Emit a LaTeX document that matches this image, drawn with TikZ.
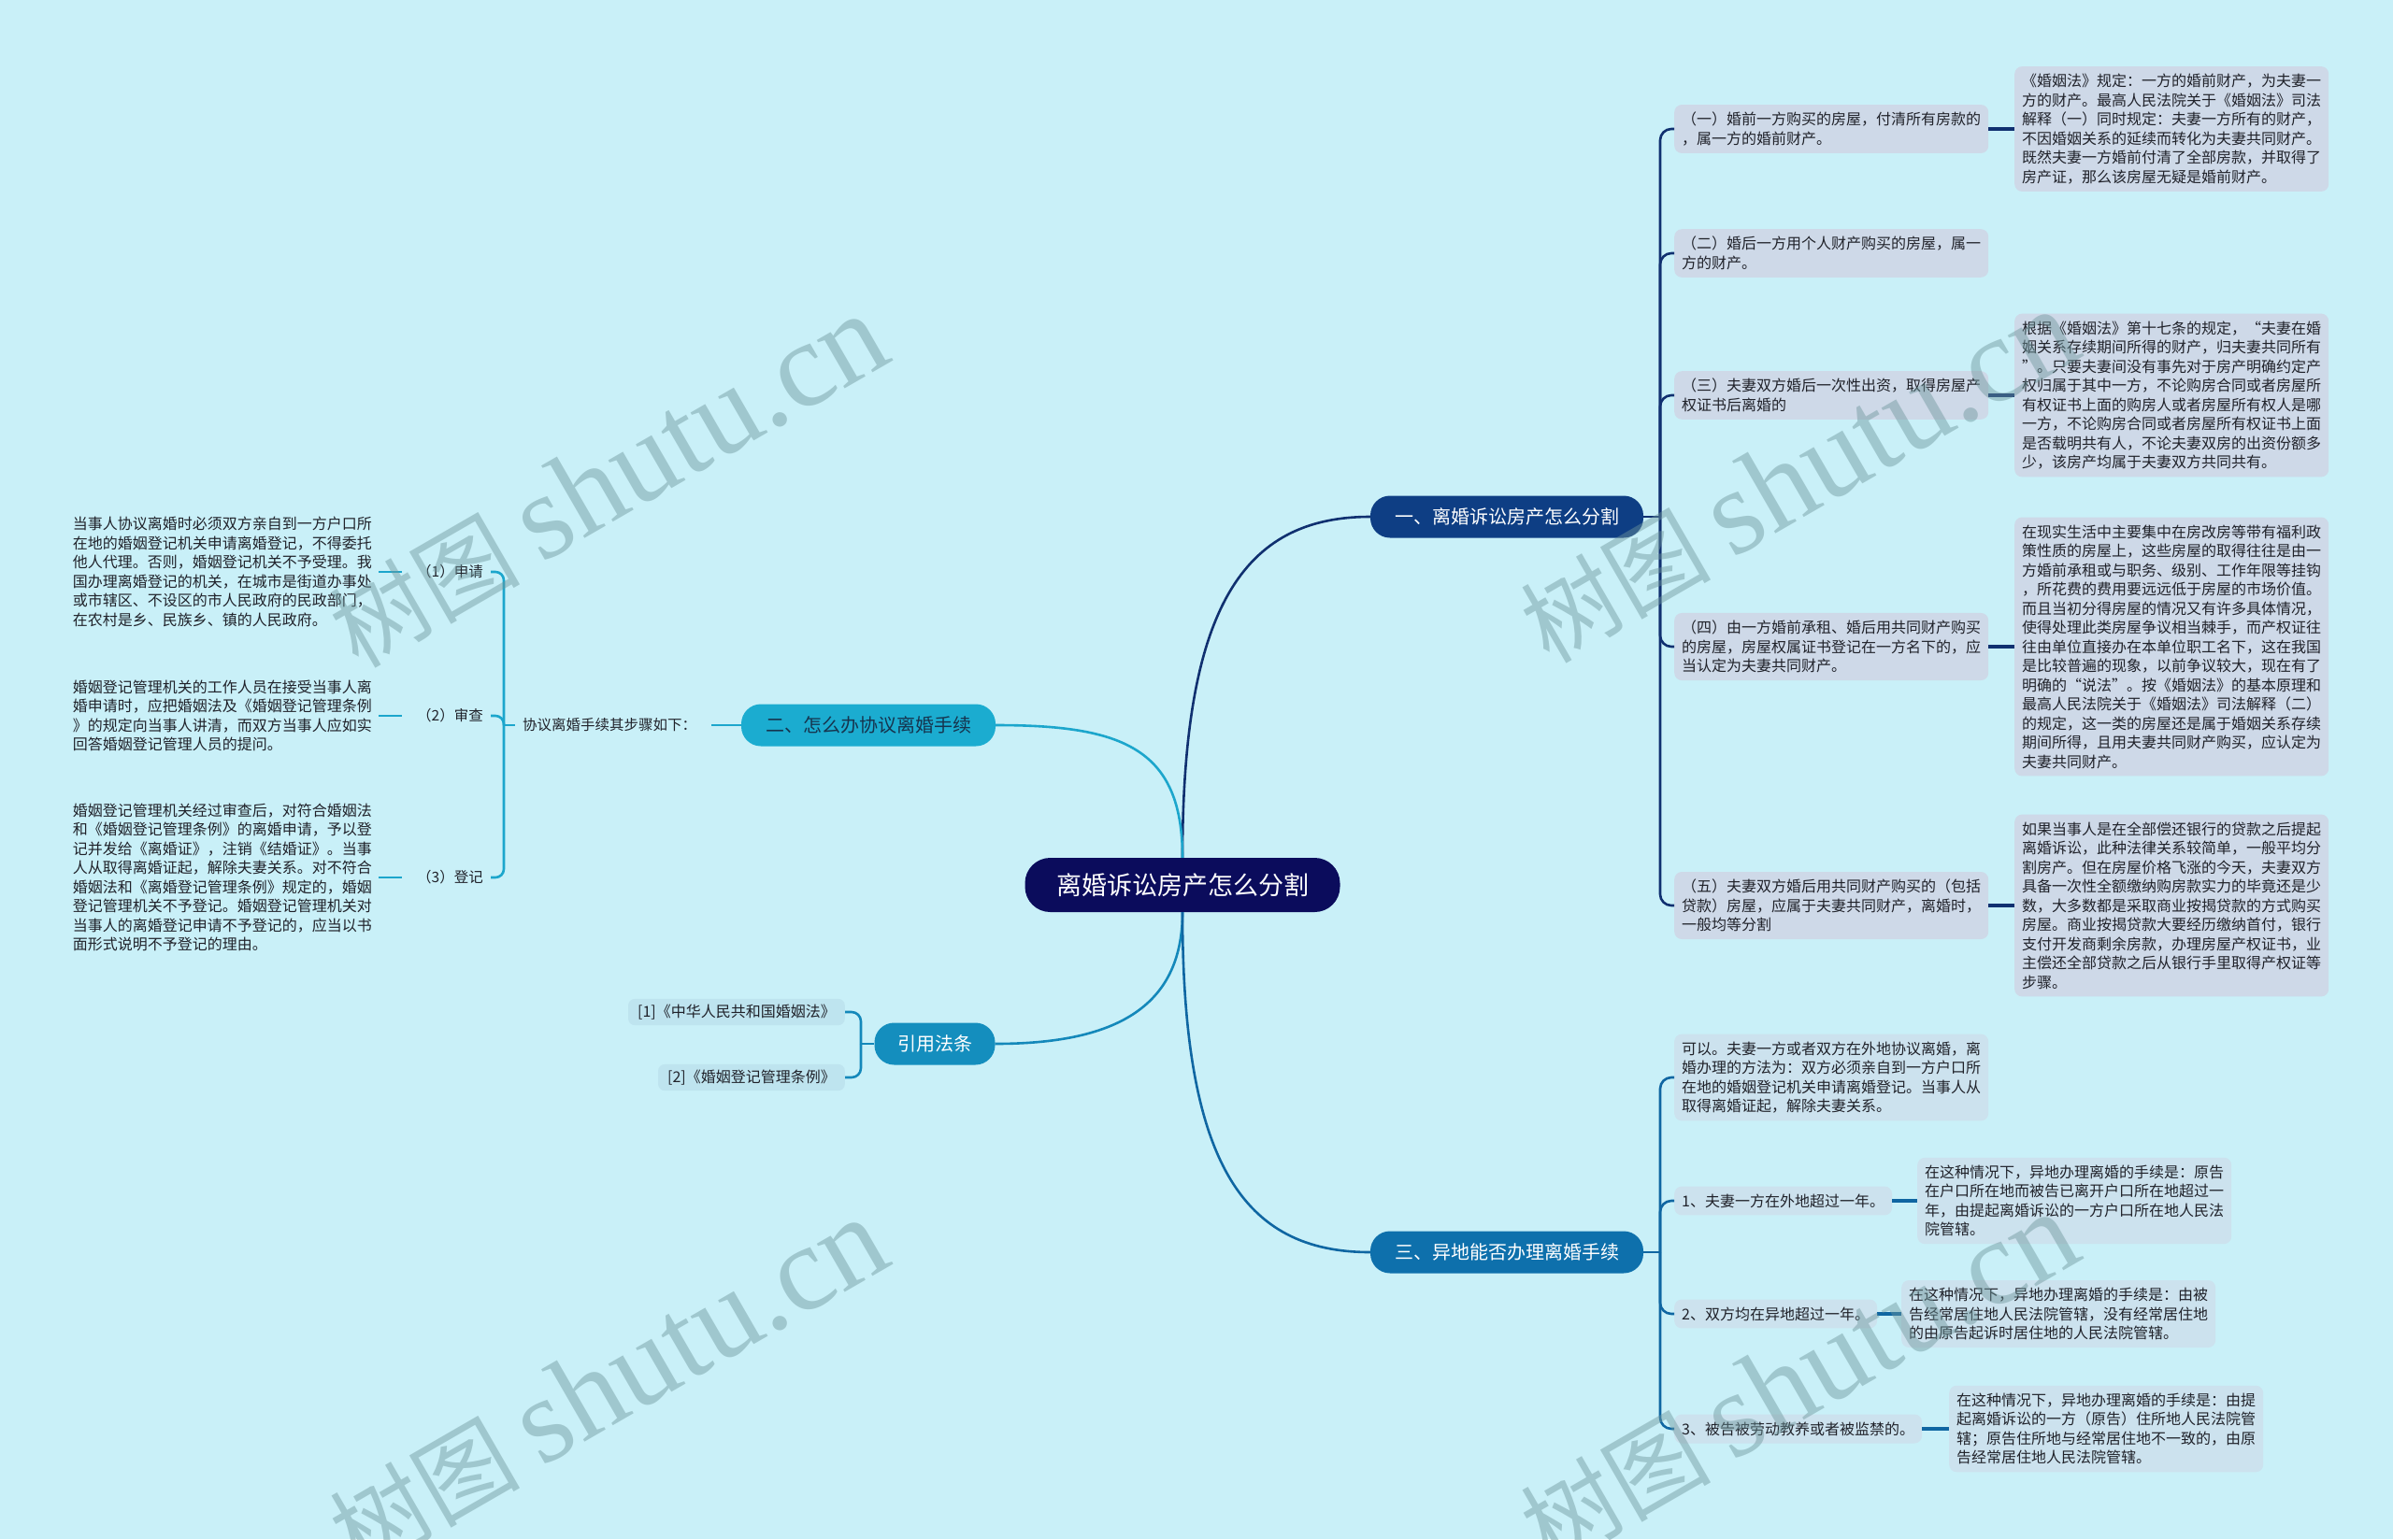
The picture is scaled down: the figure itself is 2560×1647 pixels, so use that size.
\documentclass[tikz,border=0pt]{standalone}
\usepackage{fontspec}
\setmainfont{Noto Sans CJK SC}
\newfontfamily\wmlatin{Liberation Serif}
\definecolor{bg}{RGB}{201,240,248}
\definecolor{rootc}{RGB}{11,12,92}
\definecolor{bAc}{RGB}{14,62,132}
\definecolor{bBc}{RGB}{27,172,208}
\definecolor{bBt}{RGB}{22,52,78}
\definecolor{bCc}{RGB}{20,142,190}
\definecolor{bDc}{RGB}{14,112,172}
\definecolor{boxA}{RGB}{206,217,232}
\definecolor{boxD}{RGB}{204,226,238}
\definecolor{boxC}{RGB}{190,228,239}
\definecolor{txt}{RGB}{32,34,42}
\definecolor{lnAc}{RGB}{16,48,112}
\definecolor{lnBc}{RGB}{28,166,204}
\definecolor{lnCc}{RGB}{20,136,186}
\definecolor{lnDc}{RGB}{15,102,162}
\definecolor{wmc}{RGB}{110,150,155}
\tikzset{
  rootnode/.style={fill=rootc, text=white, rounded corners=27pt, minimum width=337pt, minimum height=58pt, inner sep=0pt, font=\fontsize{27}{30}\selectfont},
  branch/.style={rounded corners=21pt, minimum height=45pt, inner sep=0pt, font=\fontsize{20}{24}\selectfont},
  leaf/.style={rounded corners=8pt, align=left, inner xsep=8pt, inner ysep=8pt, font=\fontsize{16}{20.5}\selectfont, text=txt, anchor=west},
  plaintext/.style={align=left, inner xsep=7pt, inner ysep=4pt, font=\fontsize{16}{20.5}\selectfont, text=txt},
  steplabel/.style={inner xsep=8pt, inner ysep=3pt, font=\fontsize{15.5}{19}\selectfont, text=txt},
  refbox/.style={fill=boxC, rounded corners=7pt, inner xsep=10pt, inner ysep=6pt, font=\fontsize{16}{20}\selectfont, text=txt, anchor=east},
  lnA/.style={draw=lnAc, line width=2.6pt},
  lnB/.style={draw=lnBc, line width=2.6pt},
  lnC/.style={draw=lnCc, line width=2.6pt},
  lnD/.style={draw=lnDc, line width=2.6pt},
  wm/.style={text=wmc, text opacity=0.45, inner sep=0pt, font=\fontsize{102}{102}\selectfont}
}
\newcommand\wmtext{树图 {\wmlatin\fontsize{130}{130}\selectfont shutu.cn}}
\begin{document}
\begin{tikzpicture}[x=1pt,y=-1pt]
\fill[bg] (0,0) rectangle (2560,1647);
\useasboundingbox (0,0) rectangle (2560,1647);

% central and branch nodes
\node[rootnode] (root) at (1265,947) {离婚诉讼房产怎么分割};
\node[branch, fill=bAc, text=white, minimum width=292pt] (bA) at (1612,553) {一、离婚诉讼房产怎么分割};
\node[branch, fill=bBc, text=bBt, minimum width=272pt] (bB) at (929,776) {二、怎么办协议离婚手续};
\node[branch, fill=bCc, text=white, minimum width=129pt] (bC) at (1000,1117) {引用法条};
\node[branch, fill=bDc, text=white, minimum width=292pt] (bD) at (1612,1340) {三、异地能否办理离婚手续};

% junctions
\coordinate (jA) at (1776,553);
\coordinate (jB) at (539,776);
\coordinate (jC) at (921,1117);
\coordinate (jD) at (1776,1340);

% branch A
\node[leaf, fill=boxA] (a1) at (1791,138) {（一）婚前一方购买的房屋，付清所有房款的\\，属一方的婚前财产。};
\node[leaf, fill=boxA] (a1d) at (2155,138) {《婚姻法》规定：一方的婚前财产，为夫妻一\\方的财产。最高人民法院关于《婚姻法》司法\\解释（一）同时规定：夫妻一方所有的财产，\\不因婚姻关系的延续而转化为夫妻共同财产。\\既然夫妻一方婚前付清了全部房款，并取得了\\房产证，那么该房屋无疑是婚前财产。};
\node[leaf, fill=boxA] (a2) at (1791,271) {（二）婚后一方用个人财产购买的房屋，属一\\方的财产。};
\node[leaf, fill=boxA] (a3) at (1791,423) {（三）夫妻双方婚后一次性出资，取得房屋产\\权证书后离婚的};
\node[leaf, fill=boxA] (a3d) at (2155,423) {根据《婚姻法》第十七条的规定，“夫妻在婚\\姻关系存续期间所得的财产，归夫妻共同所有\\”。只要夫妻间没有事先对于房产明确约定产\\权归属于其中一方，不论购房合同或者房屋所\\有权证书上面的购房人或者房屋所有权人是哪\\一方，不论购房合同或者房屋所有权证书上面\\是否载明共有人，不论夫妻双房的出资份额多\\少，该房产均属于夫妻双方共同共有。};
\node[leaf, fill=boxA] (a4) at (1791,692) {（四）由一方婚前承租、婚后用共同财产购买\\的房屋，房屋权属证书登记在一方名下的，应\\当认定为夫妻共同财产。};
\node[leaf, fill=boxA] (a4d) at (2155,692) {在现实生活中主要集中在房改房等带有福利政\\策性质的房屋上，这些房屋的取得往往是由一\\方婚前承租或与职务、级别、工作年限等挂钩\\，所花费的费用要远远低于房屋的市场价值。\\而且当初分得房屋的情况又有许多具体情况，\\使得处理此类房屋争议相当棘手，而产权证往\\往由单位直接办在本单位职工名下，这在我国\\是比较普遍的现象，以前争议较大，现在有了\\明确的“说法”。按《婚姻法》的基本原理和\\最高人民法院关于《婚姻法》司法解释（二）\\的规定，这一类的房屋还是属于婚姻关系存续\\期间所得，且用夫妻共同财产购买，应认定为\\夫妻共同财产。};
\node[leaf, fill=boxA] (a5) at (1791,969) {（五）夫妻双方婚后用共同财产购买的（包括\\贷款）房屋，应属于夫妻共同财产，离婚时，\\一般均等分割};
\node[leaf, fill=boxA] (a5d) at (2155,969) {如果当事人是在全部偿还银行的贷款之后提起\\离婚诉讼，此种法律关系较简单，一般平均分\\割房产。但在房屋价格飞涨的今天，夫妻双方\\具备一次性全额缴纳购房款实力的毕竟还是少\\数，大多数都是采取商业按揭贷款的方式购买\\房屋。商业按揭贷款大要经历缴纳首付，银行\\支付开发商剩余房款，办理房屋产权证书，业\\主偿还全部贷款之后从银行手里取得产权证等\\步骤。};

% branch D
\node[leaf, fill=boxD] (d0) at (1791,1153) {可以。夫妻一方或者双方在外地协议离婚，离\\婚办理的方法为：双方必须亲自到一方户口所\\在地的婚姻登记机关申请离婚登记。当事人从\\取得离婚证起，解除夫妻关系。};
\node[leaf, fill=boxD] (d1) at (1791,1285) {1、夫妻一方在外地超过一年。};
\node[leaf, fill=boxD] (d1d) at (2051,1285) {在这种情况下，异地办理离婚的手续是：原告\\在户口所在地而被告已离开户口所在地超过一\\年，由提起离婚诉讼的一方户口所在地人民法\\院管辖。};
\node[leaf, fill=boxD] (d2) at (1791,1406) {2、双方均在异地超过一年。};
\node[leaf, fill=boxD] (d2d) at (2034,1406) {在这种情况下，异地办理离婚的手续是：由被\\告经常居住地人民法院管辖，没有经常居住地\\的由原告起诉时居住地的人民法院管辖。};
\node[leaf, fill=boxD] (d3) at (1791,1529) {3、被告被劳动教养或者被监禁的。};
\node[leaf, fill=boxD] (d3d) at (2085,1529) {在这种情况下，异地办理离婚的手续是：由提\\起离婚诉讼的一方（原告）住所地人民法院管\\辖；原告住所地与经常居住地不一致的，由原\\告经常居住地人民法院管辖。};

% branch B
\node[steplabel] (k) at (652,776) {协议离婚手续其步骤如下：};
\node[steplabel, anchor=east] (s1) at (525,612) {（1）申请};
\node[steplabel, anchor=east] (s2) at (525,766) {（2）审查};
\node[steplabel, anchor=east] (s3) at (525,939) {（3）登记};
\node[plaintext, anchor=east] (g1) at (405,612) {当事人协议离婚时必须双方亲自到一方户口所\\在地的婚姻登记机关申请离婚登记，不得委托\\他人代理。否则，婚姻登记机关不予受理。我\\国办理离婚登记的机关，在城市是街道办事处\\或市辖区、不设区的市人民政府的民政部门，\\在农村是乡、民族乡、镇的人民政府。};
\node[plaintext, anchor=east] (g2) at (405,766) {婚姻登记管理机关的工作人员在接受当事人离\\婚申请时，应把婚姻法及《婚姻登记管理条例\\》的规定向当事人讲清，而双方当事人应如实\\回答婚姻登记管理人员的提问。};
\node[plaintext, anchor=east] (g3) at (405,939) {婚姻登记管理机关经过审查后，对符合婚姻法\\和《婚姻登记管理条例》的离婚申请，予以登\\记并发给《离婚证》，注销《结婚证》。当事\\人从取得离婚证起，解除夫妻关系。对不符合\\婚姻法和《离婚登记管理条例》规定的，婚姻\\登记管理机关不予登记。婚姻登记管理机关对\\当事人的离婚登记申请不予登记的，应当以书\\面形式说明不予登记的理由。};

% branch C
\node[refbox] (r1) at (904,1083) {[1]《中华人民共和国婚姻法》};
\node[refbox] (r2) at (904,1153) {[2]《婚姻登记管理条例》};

% main curves
\draw[lnA] (root.north) .. controls (1265,650) and (1330,553) .. (bA.west);
\draw[lnB] (root.north) .. controls (1265,800) and (1200,776) .. (bB.east);
\draw[lnC] (root.south) .. controls (1265,1080) and (1190,1117) .. (bC.east);
\draw[lnD] (root.south) .. controls (1265,1245) and (1330,1340) .. (bD.west);

% branch A connectors
\draw[lnA] (bA.east) -- (jA);
\foreach \n in {a1,a2,a3,a4,a5}{\draw[lnA, rounded corners=12pt] (jA) |- (\n.west);}
\draw[lnA, line width=4pt] (a1.east) -- (a1d.west);
\draw[lnA, line width=4pt] (a3.east) -- (a3d.west);
\draw[lnA, line width=4pt] (a4.east) -- (a4d.west);
\draw[lnA, line width=4pt] (a5.east) -- (a5d.west);

% branch D connectors
\draw[lnD] (bD.east) -- (jD);
\foreach \n in {d0,d1,d2,d3}{\draw[lnD, rounded corners=12pt] (jD) |- (\n.west);}
\draw[lnD, line width=4pt] (d1.east) -- (d1d.west);
\draw[lnD, line width=4pt] (d2.east) -- (d2d.west);
\draw[lnD, line width=4pt] (d3.east) -- (d3d.west);

% branch B connectors
\draw[lnB, shorten <=8pt] (k.east) -- (bB.west);
\draw[lnB] (jB) -- (k.west);
\foreach \n in {s1,s2,s3}{\draw[lnB, rounded corners=9pt] (jB) |- (\n.east);}
\foreach \g/\s in {g1/s1,g2/s2,g3/s3}{\draw[lnB, shorten >=8pt] (\g.east) -- (\s.west);}

% branch C connectors
\draw[lnC] (bC.west) -- (jC);
\foreach \n in {r1,r2}{\draw[lnC, rounded corners=10pt] (jC) |- (\n.east);}

% watermarks
\node[wm, rotate=30] (w1) at (650,515) {\wmtext};
\node[wm, rotate=30] (w2) at (1924,510) {\wmtext};
\node[wm, rotate=30] (w3) at (650,1482) {\wmtext};
\node[wm, rotate=30] (w4) at (1924,1476) {\wmtext};
\end{tikzpicture}
\end{document}
